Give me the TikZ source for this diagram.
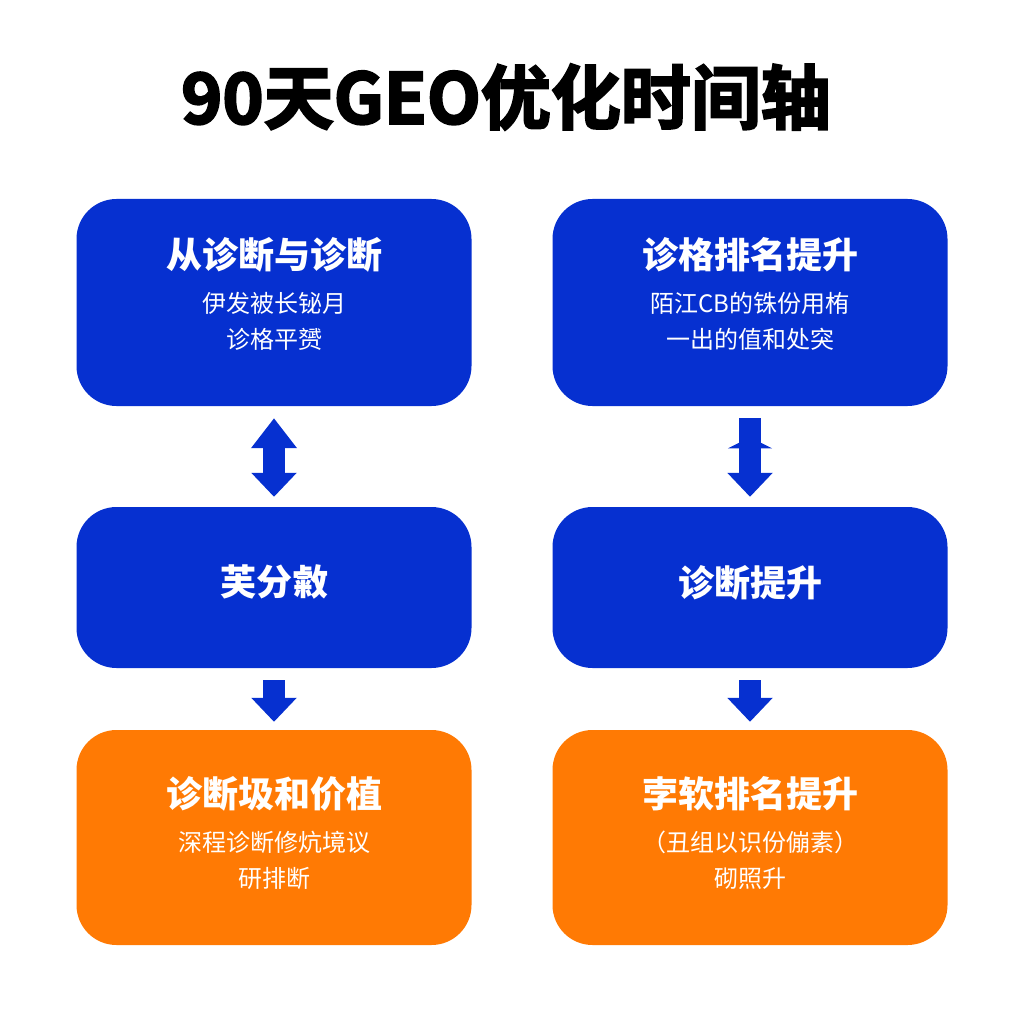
\documentclass[tikz,border=0pt]{standalone}
\usepackage{fontspec}
\setmainfont{Noto Sans CJK SC}
\newfontfamily\heavyfont{Noto Sans CJK SC}[UprightFont=* Bold, FakeBold=3]
\usetikzlibrary{arrows.meta,decorations.markings}

\definecolor{boxblue}{RGB}{6,48,208}
\definecolor{boxorange}{RGB}{255,122,4}
\newcommand{\ttlfont}{\bfseries\fontsize{36}{46}\selectfont}
\newcommand{\subfont}{\mdseries\fontsize{24}{36}\selectfont}

\tikzset{
  card/.style={rounded corners=40pt, text=white, align=center,
    minimum width=395pt, inner sep=0pt, font=\subfont},
  bluecard/.style={card, fill=boxblue},
  orangecard/.style={card, fill=boxorange},
  blockarrow/.style={draw=boxblue, line width=22pt}
}

\begin{document}
\begin{tikzpicture}[x=1pt, y=-1pt]
  \useasboundingbox[fill=white] (0,0) rectangle (1024,1024);
  % title
  \node[font=\heavyfont\fontsize{70}{72}\selectfont] (title) at (506,97) {90天GEO优化时间轴};

  % left column
  \node[bluecard, minimum height=207pt, text depth=19pt] (l1) at (274,302.5)
    {\ttlfont 从诊断与诊断\\[8pt] 伊发被长铋月\\ 诊格平赟};
  \node[bluecard, minimum height=161pt, text depth=14pt] (l2) at (274,587.5) {\ttlfont 芙分敹};
  \node[orangecard, minimum height=215pt, text depth=12pt] (l3) at (274,837.5)
    {\ttlfont 诊断圾和价植\\[8pt] 深程诊断修炕境议\\ 研排断};

  % right column
  \node[bluecard, minimum height=207pt, text depth=19pt] (r1) at (750,302.5)
    {\ttlfont 诊格排名提升\\[8pt] 陌江CB的铢份用栯\\ 一出的值和处突};
  \node[bluecard, minimum height=161pt, text depth=14pt] (r2) at (750,587.5) {\ttlfont 诊断提升};
  \node[orangecard, minimum height=215pt, text depth=12pt] (r3) at (750,837.5)
    {\ttlfont 孛软排名提升\\[8pt] （丑组以识份傰素）\\ 砌照升};

  % arrows
  \draw[blockarrow, {Triangle[width=44pt, length=30pt]}-{Triangle[width=44pt, length=24pt]},
    shorten <=12pt, shorten >=10pt] (l1) -- (l2);
  \draw[blockarrow, -{Triangle[width=44pt, length=24pt]}, shorten <=12pt, shorten >=10pt,
    postaction={decorate}, decoration={markings,
      mark=at position 0.31 with {\arrowreversed{Triangle[width=44pt, length=11pt]}}}]
    (r1) -- (r2);
  \draw[blockarrow, -{Triangle[width=44pt, length=24pt]}, shorten <=12pt, shorten >=8pt] (l2) -- (l3);
  \draw[blockarrow, -{Triangle[width=44pt, length=24pt]}, shorten <=12pt, shorten >=8pt] (r2) -- (r3);
\end{tikzpicture}
\end{document}
